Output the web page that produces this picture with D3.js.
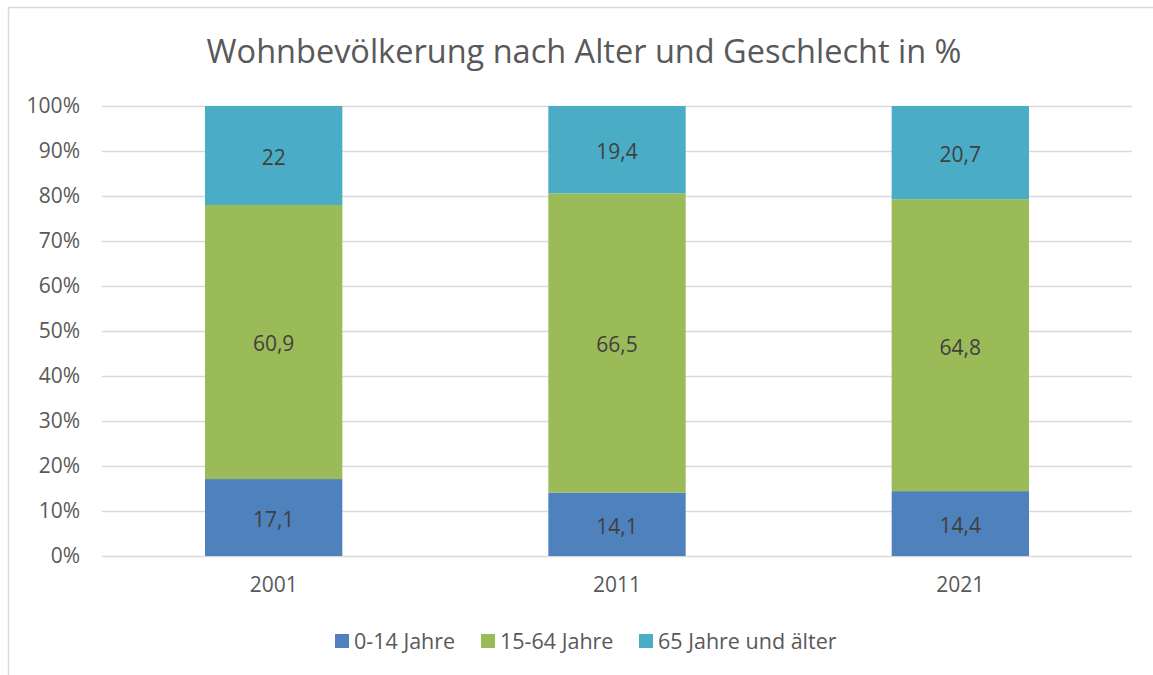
<!DOCTYPE html>
<html>
<head>
<meta charset="utf-8">
<script src="https://d3js.org/d3.v7.min.js"></script>
<style>
  body { margin: 0; background: #fff; }
</style>
</head>
<body>
<div id="chart"></div>
<script>
const years = ["2001", "2011", "2021"];
const seriesNames = ["0-14 Jahre", "15-64 Jahre", "65 Jahre und älter"];
const young = [17.1, 14.1, 14.4];
const working = [60.9, 66.5, 64.8];
const old = [22, 19.4, 20.7];
const tickValues = [0, 10, 20, 30, 40, 50, 60, 70, 80, 90, 100];
const colors = ["#4f81bd", "#9bbb59", "#4bacc6"];

const svgWidth = 1153;
const svgHeight = 675;
const margin = { top: 106, right: 21, bottom: 119, left: 102 };
const width = svgWidth - margin.left - margin.right;
const height = svgHeight - margin.top - margin.bottom;
const font = "'Open Sans', sans-serif";
const textColor = "#595959";

// build rows, normalised to 100% like a 100% stacked column chart
const keys = ["young", "working", "old"];
const rows = years.map((y, i) => {
  const total = young[i] + working[i] + old[i];
  return {
    year: y,
    raw: { young: young[i], working: working[i], old: old[i] },
    young: young[i] / total * 100,
    working: working[i] / total * 100,
    old: old[i] / total * 100
  };
});

const svg = d3.select("#chart").append("svg")
  .attr("width", svgWidth)
  .attr("height", svgHeight)
  .style("font-family", font);

// chart border (only left/top visible in the frame)
svg.append("rect")
  .attr("x", 8.5).attr("y", 7.5)
  .attr("width", 1160).attr("height", 700)
  .attr("fill", "none")
  .attr("stroke", "#d9d9d9")
  .attr("stroke-width", 1.5);

const chart = svg.append("g")
  .attr("transform", `translate(${margin.left},${margin.top})`);

const x = d3.scaleBand()
  .domain(years)
  .range([0, width])
  .paddingInner(0.6)
  .paddingOuter(0.3);

const y = d3.scaleLinear()
  .domain([0, 100])
  .range([height, 0]);

const color = d3.scaleOrdinal().domain(keys).range(colors);

// gridlines
chart.append("g")
  .selectAll("line")
  .data(tickValues)
  .join("line")
  .attr("x1", 0).attr("x2", width)
  .attr("y1", d => y(d) + 0.5).attr("y2", d => y(d) + 0.5)
  .attr("stroke", "#d9d9d9")
  .attr("stroke-width", 1.5);

// y axis labels
const yAxis = chart.append("g")
  .call(d3.axisLeft(y).tickValues(tickValues).tickFormat(d => d + "%").tickSize(0).tickPadding(22));
yAxis.select(".domain").remove();
yAxis.selectAll("text")
  .style("font-size", "21px")
  .style("font-family", font)
  .attr("fill", textColor);

const series = d3.stack().keys(keys)(rows);

const layers = chart.selectAll("g.layer")
  .data(series)
  .join("g")
  .attr("class", "layer")
  .attr("fill", d => color(d.key));

layers.selectAll("rect")
  .data(d => d)
  .join("rect")
  .attr("x", d => x(d.data.year))
  .attr("y", d => y(d[1]))
  .attr("width", x.bandwidth())
  .attr("height", d => y(d[0]) - y(d[1]));

// data labels
chart.selectAll("g.labels")
  .data(series)
  .join("g")
  .attr("class", "labels")
  .selectAll("text")
  .data(d => d.map(v => ({ v, key: d.key })))
  .join("text")
  .attr("x", d => x(d.v.data.year) + x.bandwidth() / 2)
  .attr("y", d => y((d.v[0] + d.v[1]) / 2))
  .attr("dy", "0.45em")
  .attr("text-anchor", "middle")
  .style("font-size", "21px")
  .attr("fill", "#404040")
  .text(d => String(d.v.data.raw[d.key]).replace(".", ","));

// x axis
const xAxis = chart.append("g")
  .attr("transform", `translate(0,${height})`)
  .call(d3.axisBottom(x).tickSize(0).tickPadding(21));
xAxis.select(".domain").remove();
xAxis.selectAll("text")
  .style("font-size", "21px")
  .style("font-family", font)
  .attr("fill", textColor);

// title
svg.append("text")
  .attr("x", 584)
  .attr("y", 63)
  .attr("text-anchor", "middle")
  .style("font-size", "32.5px")
  .attr("fill", textColor)
  .text("Wohnbevölkerung nach Alter und Geschlecht in %");

// legend
const legendX = [335, 481, 639];
const legend = svg.append("g").attr("transform", "translate(0, 634)");
seriesNames.forEach((name, i) => {
  const row = legend.append("g").attr("transform", `translate(${legendX[i]}, 0)`);
  row.append("rect")
    .attr("width", 14)
    .attr("height", 14)
    .attr("fill", colors[i]);
  row.append("text")
    .attr("x", 19)
    .attr("y", 7)
    .attr("dy", "0.37em")
    .style("font-size", "21.5px")
    .attr("fill", textColor)
    .text(name);
});
</script>
</body>
</html>
